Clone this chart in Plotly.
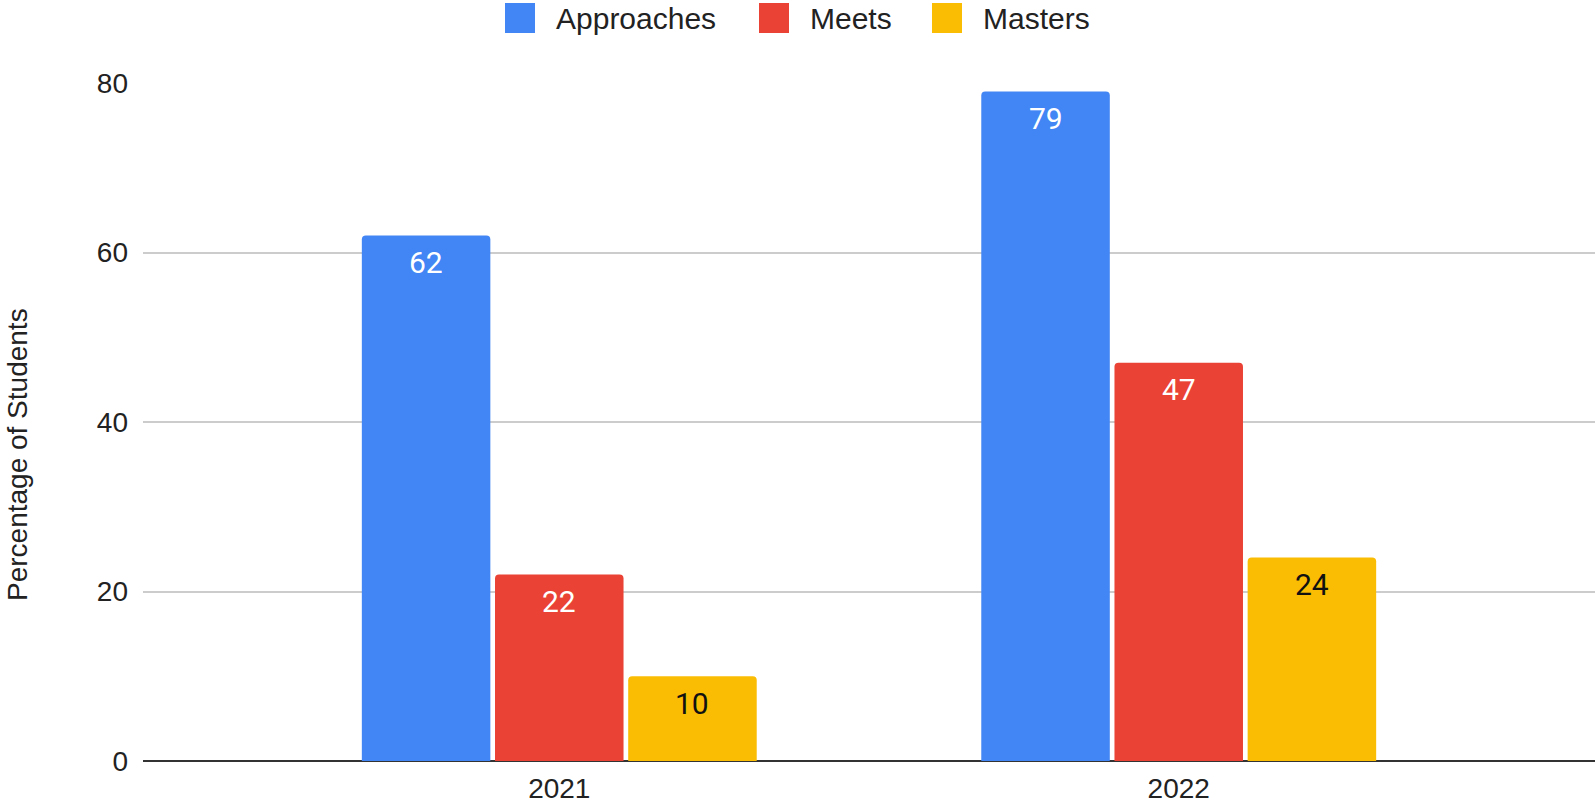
import plotly.graph_objects as go

years = ["2021", "2022"]
approaches = [62, 79]
meets = [22, 47]
masters = [10, 24]

series_names = ["Approaches", "Meets", "Masters"]
series_values = [approaches, meets, masters]
series_colors = ["#4285F4", "#EA4335", "#FBBC04"]
label_colors = ["#FFFFFF", "#FFFFFF", "#111111"]
y_title = "Percentage of Students"

# layout constants (pixels)
W, H = 1595, 808
M_L, M_R, M_T, M_B = 143, 0, 83, 47
BARGAP = 0.355
XRANGE = [-0.672, 1.672]
plot_w = W - M_L - M_R
plot_h = H - M_T - M_B
TEXT_FONT = "Liberation Sans, Arial, sans-serif"

fig = go.Figure()
for name, vals, color in zip(series_names, series_values, series_colors):
    fig.add_trace(go.Bar(
        name=name,
        x=years,
        y=vals,
        marker=dict(color=color, line=dict(width=0)),
        showlegend=False,
        hoverinfo="skip",
    ))

# value labels near the top of each bar
slot = (1 - BARGAP) / len(series_names)
annotations = []
for i, (vals, tcol) in enumerate(zip(series_values, label_colors)):
    offset = (i - (len(series_names) - 1) / 2) * slot
    for j, v in enumerate(vals):
        annotations.append(dict(
            x=j + offset, y=v, xref="x", yref="y",
            text=str(v), showarrow=False,
            xanchor="center", yanchor="middle", yshift=-27,
            font=dict(family="Roboto", size=30, color=tcol),
        ))


def px_to_paper_x(px):
    return (px - M_L) / plot_w


def py_to_paper_y(py):
    return (H - M_B - py) / plot_h


# legend drawn as swatches with text, centred above the plot
legend_swatch_left = [505, 759, 932]
legend_cy = 18
sw = 30
shapes = []
for left, name, color in zip(legend_swatch_left, series_names, series_colors):
    shapes.append(dict(
        type="rect", xref="paper", yref="paper",
        x0=px_to_paper_x(left), x1=px_to_paper_x(left + sw),
        y0=py_to_paper_y(legend_cy + sw / 2), y1=py_to_paper_y(legend_cy - sw / 2),
        fillcolor=color, line=dict(width=0), layer="above",
    ))
    annotations.append(dict(
        x=px_to_paper_x(left + sw + 19), y=py_to_paper_y(legend_cy),
        xref="paper", yref="paper", text=name, showarrow=False,
        xanchor="left", yanchor="middle",
        font=dict(family=TEXT_FONT, size=30, color="#222222"),
    ))

# vertical axis title
annotations.append(dict(
    x=px_to_paper_x(17), y=py_to_paper_y(455),
    xref="paper", yref="paper", text=y_title, showarrow=False,
    textangle=-90, xanchor="center", yanchor="middle",
    font=dict(family=TEXT_FONT, size=28, color="#222222"),
))

fig.update_layout(
    width=W,
    height=H,
    margin=dict(l=M_L, r=M_R, t=M_T, b=M_B),
    paper_bgcolor="white",
    plot_bgcolor="white",
    barmode="group",
    bargap=BARGAP,
    bargroupgap=0.035,
    barcornerradius=4,
    showlegend=False,
    font=dict(family=TEXT_FONT, color="#222222"),
    shapes=shapes,
    annotations=annotations,
    xaxis=dict(
        type="category",
        range=XRANGE,
        showgrid=False,
        showline=False,
        ticks="",
        ticklabelstandoff=8,
        tickfont=dict(size=28, color="#222222"),
        zeroline=False,
    ),
    yaxis=dict(
        range=[0, 80],
        tickvals=[0, 20, 40, 60, 80],
        showgrid=True,
        gridcolor="#CCCCCC",
        gridwidth=2,
        zeroline=True,
        zerolinecolor="#333333",
        zerolinewidth=2,
        ticks="",
        ticklabelstandoff=14,
        tickfont=dict(size=28, color="#222222"),
    ),
)

fig.write_html("out.html")
